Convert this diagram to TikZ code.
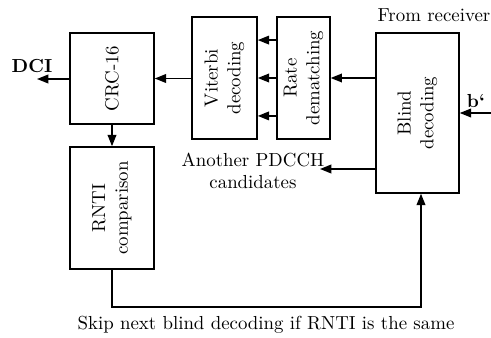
\documentclass[tikz,border=0pt]{standalone}
\usetikzlibrary{arrows.meta}
\begin{document}
\begin{tikzpicture}[x=0.53pt,y=-0.53pt,
  blk/.style={draw,line width=0.8pt,inner sep=0pt,minimum width=#1},
  arr/.style={line width=0.8pt,-{Triangle[length=6pt,width=4.6pt]}},
  lbl/.style={inner sep=0pt,align=center}]
\useasboundingbox (0,0) rectangle (491,338);
\node[blk=44.5pt,minimum height=48.2pt] (crc) at (112,78.5) {\rotatebox{90}{CRC-16}};
\node[blk=44.5pt,minimum height=64.7pt] (rnti) at (112,208) {\rotatebox{90}{\begin{tabular}{@{}c@{}}RNTI\\comparison\end{tabular}}};
\node[blk=34.5pt,minimum height=64.7pt] (vit) at (224.5,78) {\rotatebox{90}{\begin{tabular}{@{}c@{}}Viterbi\\decoding\end{tabular}}};
\node[blk=28pt,minimum height=64.7pt] (rate) at (303.5,78) {\rotatebox{90}{\begin{tabular}{@{}c@{}}Rate\\dematching\end{tabular}}};
\node[blk=44pt,minimum height=84.8pt] (blind) at (417.5,113) {\rotatebox{90}{\begin{tabular}{@{}c@{}}Blind\\decoding\end{tabular}}};
\node[lbl] (dci) at (32,66) {\textbf{DCI}};
\node[lbl] (recv) at (434,15) {From receiver};
\node[lbl] (bl) at (476,101) {\textbf{b`}};
\node[lbl] (another) at (253,171) {Another PDCCH\\candidates};
\node[lbl] (skip) at (266,325) {Skip next blind decoding if RNTI is the same};
\coordinate (dciend) at (37,79);
\coordinate (bin) at (491,113);
\coordinate (anend) at (320,169);
\coordinate (fb) at (421,307);
\draw[arr] (crc.west |- dciend) -- (dciend);
\draw[arr] (crc.south) -- (rnti.north);
\draw[arr] (vit.west |- crc) -- (crc.east);
\draw[arr] ([yshift=20.1pt]rate.west) -- ([yshift=20.1pt]vit.east);
\draw[arr] (rate.west) -- (vit.east);
\draw[arr] ([yshift=-20.1pt]rate.west) -- ([yshift=-20.1pt]vit.east);
\draw[arr] (blind.west |- rate) -- (rate.east);
\draw[arr] (bin) -- (blind.east);
\draw[arr] (blind.west |- anend) -- (anend);
\draw[arr] (rnti.south) |- (fb) -- (fb |- blind.south);
\end{tikzpicture}
\end{document}
